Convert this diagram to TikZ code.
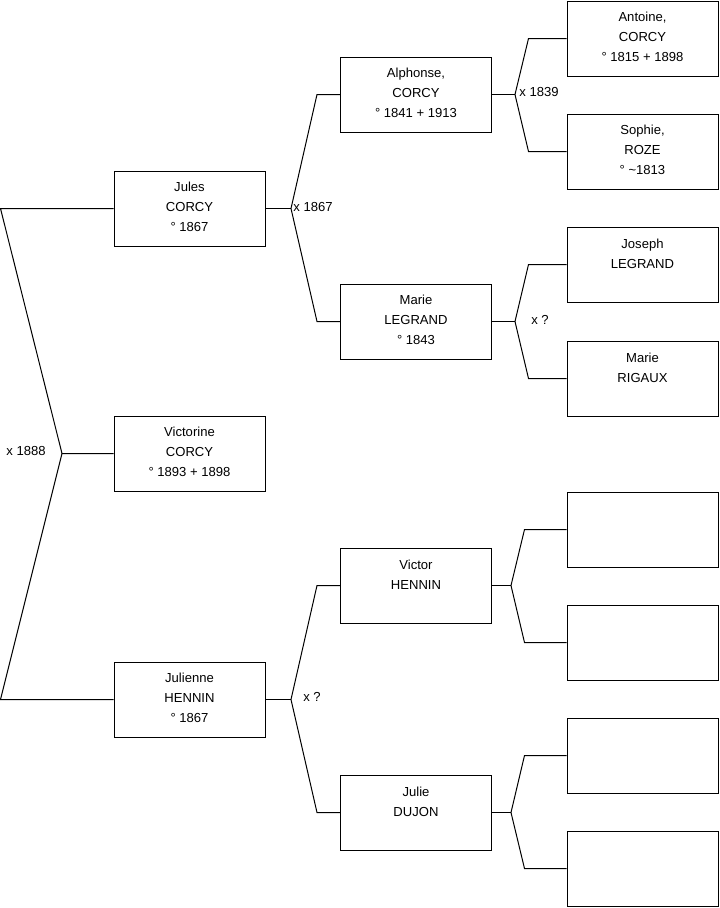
\documentclass[tikz,border=0pt]{standalone}
\usepackage{fontspec}
\setmainfont{Liberation Sans}
\newcommand{\liftup}{\\[-12.75pt]\mbox{}}
\newcommand{\liftlow}{\\\mbox{}\\[-14.25pt]\mbox{}}
\begin{document}
\begin{tikzpicture}[x=0.75pt,y=-0.75pt,
  person/.style={draw=black, line width=0.75pt, minimum width=113.25pt, minimum height=56.25pt,
    inner sep=0pt, align=center, font=\fontsize{9.8}{15}\selectfont},
  link/.style={line width=0.75pt, black},
  union/.style={font=\fontsize{9.8}{11}\selectfont, inner sep=0pt}]
\useasboundingbox (0,0) rectangle (719,908);
% generation 1
\node[person] (jules) at (189.5,208.5) {Jules\\CORCY\\° 1867\liftup};
\node[person] (vict) at (189.5,453.5) {Victorine\\CORCY\\° 1893 + 1898\liftup};
\node[person] (julienne) at (189.5,699.5) {Julienne\\HENNIN\\° 1867\liftup};
% generation 2
\node[person] (alph) at (416,94.5) {Alphonse,\\CORCY\\° 1841 + 1913\liftup};
\node[person] (mariel) at (416,321.5) {Marie\\LEGRAND\\° 1843\liftup};
\node[person] (victor) at (416,585.5) {Victor\\HENNIN\liftlow};
\node[person] (julie) at (416,812.5) {Julie\\DUJON\liftlow};
% generation 3
\node[person] (antoine) at (642.5,38.5) {Antoine,\\CORCY\\° 1815 + 1898\liftup};
\node[person] (sophie) at (642.5,151.5) {Sophie,\\ROZE\\° \textasciitilde1813\liftup};
\node[person] (joseph) at (642.5,264.5) {Joseph\\LEGRAND\liftlow};
\node[person] (marier) at (642.5,378.5) {Marie\\RIGAUX\liftlow};
\node[person] (e1) at (642.5,529.5) {};
\node[person] (e2) at (642.5,642.5) {};
\node[person] (e3) at (642.5,755.5) {};
\node[person] (e4) at (642.5,868.5) {};
% fork points
\coordinate (f0) at (62,453.5);
\coordinate (f1) at (291,208.5);
\coordinate (f2) at (291,699.5);
\coordinate (f3) at (515,94.5);
\coordinate (f4) at (515,321.5);
\coordinate (f5) at (511,585.5);
\coordinate (f6) at (511,812.5);
% connectors
\draw[link] (jules.west) -- ++(-113,0) -- (f0) -- (vict.west);
\draw[link] (julienne.west) -- ++(-113,0) -- (f0);
\draw[link] (jules.east) -- (f1);
\draw[link] (alph.west) -- ++(-23,0) -- (f1) -- ([xshift=-17.25pt]mariel.west) -- (mariel.west);
\draw[link] (julienne.east) -- (f2);
\draw[link] (victor.west) -- ++(-23,0) -- (f2) -- ([xshift=-17.25pt]julie.west) -- (julie.west);
\draw[link] (alph.east) -- (f3);
\draw[link] (antoine.west) -- ++(-38,0) -- (f3) -- ([xshift=-28.5pt]sophie.west) -- (sophie.west);
\draw[link] (mariel.east) -- (f4);
\draw[link] (joseph.west) -- ++(-38,0) -- (f4) -- ([xshift=-28.5pt]marier.west) -- (marier.west);
\draw[link] (victor.east) -- (f5);
\draw[link] (e1.west) -- ++(-42,0) -- (f5) -- ([xshift=-31.5pt]e2.west) -- (e2.west);
\draw[link] (julie.east) -- (f6);
\draw[link] (e3.west) -- ++(-42,0) -- (f6) -- ([xshift=-31.5pt]e4.west) -- (e4.west);
% union labels
\node[union] (u0) at (26,451) {x 1888};
\node[union] (u1) at (313,207) {x 1867};
\node[union] (u2) at (312,697) {x ?};
\node[union] (u3) at (539,92) {x 1839};
\node[union] (u4) at (540,320) {x ?};
\end{tikzpicture}
\end{document}
